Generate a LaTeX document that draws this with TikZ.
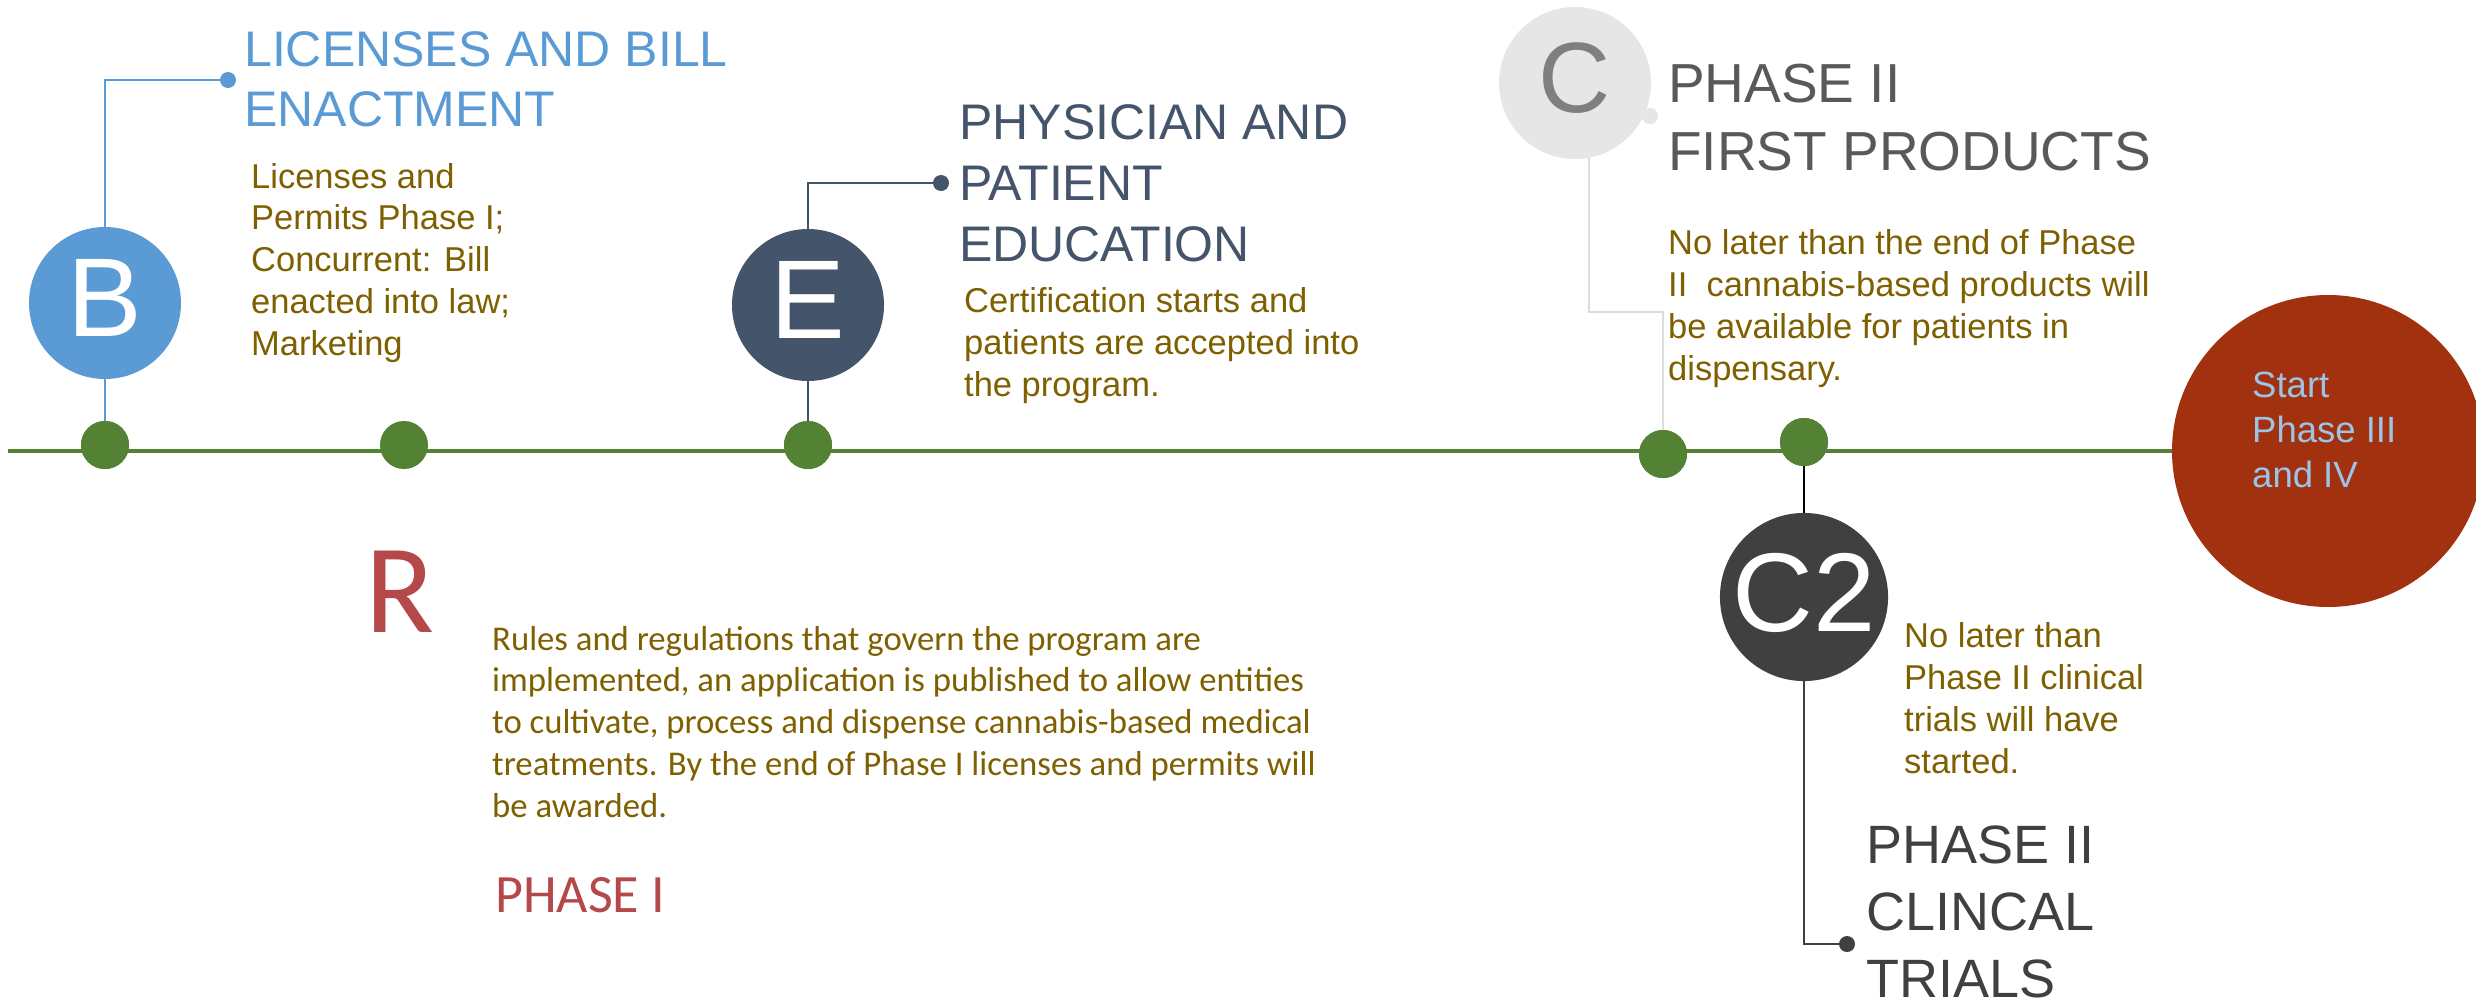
\documentclass[tikz,border=0pt]{standalone}
\usepackage{fontspec}
\setmainfont{Liberation Sans}
\newfontfamily\calibrifont{Carlito}
\definecolor{cblue}{HTML}{5B9BD5}
\definecolor{cnavy}{HTML}{44546A}
\definecolor{clgrey}{HTML}{E7E6E6}
\definecolor{cline}{HTML}{DCDCDC}
\definecolor{cCtext}{HTML}{7F7F7F}
\definecolor{cdark}{HTML}{404040}
\definecolor{cgreen}{HTML}{548235}
\definecolor{cred}{HTML}{A2310F}
\definecolor{cbrown}{HTML}{7F6000}
\definecolor{ctgrey}{HTML}{595959}
\definecolor{crose}{HTML}{B54848}
\definecolor{cstart}{HTML}{9DC3E6}
\begin{document}
\begin{tikzpicture}[x=1pt,y=-1pt,
  circ/.style={circle,minimum size=152pt,inner sep=0pt,text=white,font=\fontsize{112}{112}\selectfont,text depth=10pt},
  gdot/.style={circle,fill=cgreen,minimum size=48pt,inner sep=0pt},
  enddot/.style={circle,minimum size=16pt,inner sep=0pt},
  title/.style={anchor=base west,align=left,inner sep=0pt},
  body/.style={anchor=base west,align=left,inner sep=0pt,text=cbrown,font=\fontsize{34.5}{41.7}\selectfont},
  conn/.style={line width=2.5pt}
]
\clip (0,0) rectangle (2476,999);
\fill[white] (0,0) rectangle (2476,999);

% timeline
\coordinate (lstart) at (8,451);
\coordinate (lend) at (2328,451);
\draw[cgreen,line width=4pt] (lstart) -- (lend);

% named nodes (positions)
\path (105,445) node[gdot] (d1) {}
      (404,445) node[gdot] (d2) {}
      (808,445) node[gdot] (d3) {}
      (1663,454) node[gdot] (d4) {}
      (1804,442) node[gdot] (d5) {};
\path (228,80) node[enddot,fill=cblue] (bdot) {}
      (941,183) node[enddot,fill=cnavy] (edot) {}
      (1650,116) node[enddot,fill=clgrey] (cdot) {}
      (1847,944) node[enddot,fill=cdark] (c2dot) {};
\coordinate (cbend) at (1589,312);

% connectors (behind circles)
\draw[conn,cblue] (d1.center) -- (105,303) |- (bdot.center);
\draw[conn,cnavy] (d3.center) -- (808,305) |- (edot.center);
\draw[conn,cline] (d4.center) |- (cbend) |- (cdot.center);
\draw[conn,black] (d5.center) -- (1804,597);
\draw[conn,cdark] (1804,597) |- (c2dot.center);

% redraw dots on top of lines
\path (105,445) node[gdot] {}
      (808,445) node[gdot] {}
      (1663,454) node[gdot] {}
      (1804,442) node[gdot] {};

% big circles
\node[circ,fill=cblue] (B) at (105,303) {B};
\node[circ,fill=cnavy] (E) at (808,305) {E};
\node[circ,fill=clgrey,text=cCtext,font=\fontsize{100}{100}\selectfont] (C) at (1575,83) {C};
\node[circ,fill=cdark] (C2) at (1804,597) {C2};
\node[circle,fill=cred,minimum size=312pt,inner sep=0pt] (red) at (2328,451) {};
\node[enddot,fill=clgrey] at (cdot) {};

% titles (anchor = baseline of last line)
\node[title,text=cblue,font=\fontsize{50}{60}\selectfont] (tB) at (244,126) {LICENSES AND BILL\\ENACTMENT};
\node[title,text=cnavy,font=\fontsize{50}{61}\selectfont] (tE) at (959,261) {PHYSICIAN AND\\PATIENT\\EDUCATION};
\node[title,text=ctgrey,font=\fontsize{55}{68}\selectfont] (tC) at (1668,170) {PHASE II\\FIRST PRODUCTS};
\node[title,text=cdark,font=\fontsize{54}{67}\selectfont] (tC2) at (1866,997) {PHASE II\\CLINCAL\\TRIALS};

% bodies
\node[body] (bB) at (251,355) {Licenses and\\Permits Phase I;\\Concurrent: Bill\\enacted into law;\\Marketing};
\node[body] (bE) at (964,396) {Certification starts and\\patients are accepted into\\the program.};
\node[body] (bC) at (1668,380) {No later than the end of Phase\\II\ \ cannabis-based products will\\be available for patients in\\dispensary.};
\node[body] (bC2) at (1904,773) {No later than\\Phase II clinical\\trials will have\\started.};
\node[title,text=cstart,font=\fontsize{36.5}{45}\selectfont] (tStart) at (2252,487) {Start\\Phase III\\and IV};

% R block
\node[title,text=crose,font=\calibrifont\fontsize{127}{127}\selectfont] (R) at (365,632) {R};
\node[body,font=\calibrifont\fontsize{34.7}{41.7}\selectfont] (bR) at (492,817) {Rules and regulations that govern the program are\\implemented, an application is published to allow entities\\to cultivate, process and dispense cannabis-based medical\\treatments. By the end of Phase I licenses and permits will\\be awarded.};
\node[title,text=crose,font=\calibrifont\fontsize{54}{54}\selectfont] (P1) at (495,912) {PHASE I};
\end{tikzpicture}
\end{document}
